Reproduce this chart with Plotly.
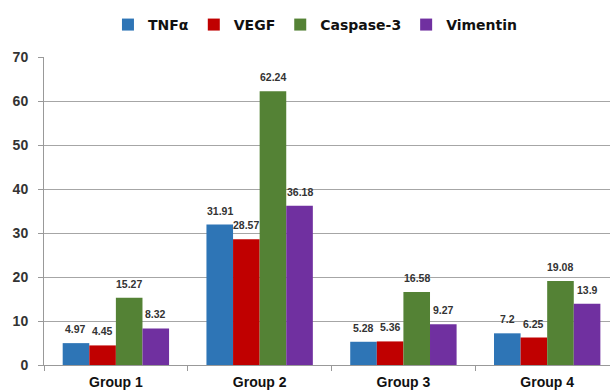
import plotly.graph_objects as go

groups = ["Group 1", "Group 2", "Group 3", "Group 4"]
tnf = [4.97, 31.91, 5.28, 7.2]
vegf = [4.45, 28.57, 5.36, 6.25]
casp = [15.27, 62.24, 16.58, 19.08]
vim = [8.32, 36.18, 9.27, 13.9]
series_names = ["TNFα", "VEGF", "Caspase-3", "Vimentin"]
colors = ["#2E75B6", "#C00000", "#548235", "#7030A0"]
y_ticks = [0, 10, 20, 30, 40, 50, 60, 70]

W, H = 610, 392
L, R = 44, 0
x_range = [-0.5, 3.437]
bargap = 0.26
cat_px = (W - L - R) / (x_range[1] - x_range[0])
bar_px = cat_px * (1 - bargap) / len(series_names)

fig = go.Figure()
for i, (name, vals, col) in enumerate(zip(series_names, [tnf, vegf, casp, vim], colors)):
    fig.add_trace(go.Bar(
        x=groups, y=vals, name=name, marker_color=col,
        marker_line_width=0,
    ))
    for g, v in zip(groups, vals):
        fig.add_annotation(
            x=g, y=v, text=f"<b>{v}</b>", showarrow=False,
            xshift=(i - 1.5) * bar_px, yshift=6, yanchor="bottom",
            font=dict(family="Liberation Sans", size=10.5, color="#333333"),
        )

fig.update_layout(
    width=W, height=H,
    margin=dict(l=L, r=R, t=57, b=27),
    paper_bgcolor="white", plot_bgcolor="white",
    barmode="group", bargap=bargap, bargroupgap=0,
    font=dict(family="Liberation Sans", color="#222222"),
    legend=dict(orientation="h", x=0.113, y=1.104, xanchor="left", yanchor="middle",
                font=dict(size=14, family="DejaVu Sans", weight="bold", color="#111111"),
                itemwidth=30, traceorder="normal"),
)
fig.update_xaxes(
    range=x_range, tickson="boundaries", ticks="outside", ticklen=5,
    tickcolor="#999999", showline=True, linecolor="#999999", linewidth=1,
    tickfont=dict(size=14, family="Liberation Sans", weight="bold", color="#111111"),
    ticklabelstandoff=4,
    showgrid=False,
)
fig.update_yaxes(
    range=[0, 70], tickvals=y_ticks, ticks="outside", ticklen=5, tickcolor="#999999",
    showline=True, linecolor="#999999", linewidth=1,
    showgrid=True, gridcolor="#A6A6A6", gridwidth=1, zeroline=False,
    tickfont=dict(size=14, family="Liberation Sans", weight="bold", color="#333333"),
    ticklabelstandoff=7,
)
fig.write_html("out.html")
